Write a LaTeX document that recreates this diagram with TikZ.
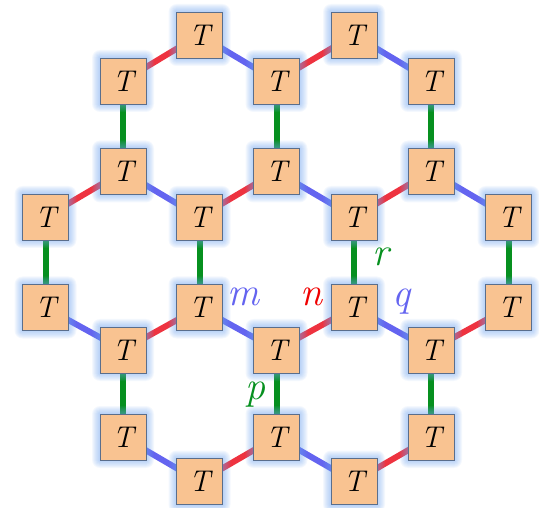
\documentclass[tikz,border=0pt]{standalone}
\usetikzlibrary{calc}
\definecolor{tfill}{HTML}{F9C391}
\definecolor{tborder}{HTML}{5A6E8C}
\definecolor{glow}{HTML}{6FA3EE}
\definecolor{ered}{HTML}{EE3340}
\definecolor{eblue}{HTML}{6464F0}
\definecolor{egreen}{HTML}{06901F}
\definecolor{lred}{HTML}{F00000}
\begin{document}
\begin{tikzpicture}[x=1pt,y=-1pt,
  tnode/.style={draw=tborder,line width=0.9pt,fill=tfill,minimum size=46pt,inner sep=0pt,
    font=\fontsize{30}{30}\selectfont\itshape},
  redge/.style={ered,line width=6pt},
  bedge/.style={eblue,line width=6pt},
  gedge/.style={egreen,line width=6pt},
  lab/.style={font=\fontsize{40}{40}\selectfont\itshape,inner sep=0pt}]
\useasboundingbox (0,0) rectangle (539,508);
% coordinates
\def\xa{45.5}\def\xb{123}\def\xc{199.5}\def\xd{276.5}\def\xe{354}\def\xf{431}\def\xg{508.5}
\def\ya{35}\def\yb{81}\def\yc{171.5}\def\yd{217}\def\ye{307.5}\def\yf{350}\def\yg{437}\def\yh{481.5}
\foreach \n/\x/\y in {a1/\xc/\ya, a2/\xe/\ya,
  b1/\xb/\yb, b2/\xd/\yb, b3/\xf/\yb,
  c1/\xb/\yc, c2/\xd/\yc, c3/\xf/\yc,
  d1/\xa/\yd, d2/\xc/\yd, d3/\xe/\yd, d4/\xg/\yd,
  e1/\xa/\ye, e2/\xc/\ye, e3/\xe/\ye, e4/\xg/\ye,
  f1/\xb/\yf, f2/\xd/\yf, f3/\xf/\yf,
  g1/\xb/\yg, g2/\xd/\yg, g3/\xf/\yg,
  h1/\xc/\yh, h2/\xe/\yh}
  {\coordinate (p\n) at (\x,\y);}
% edges
\draw[redge] (pb1) -- (pa1);
\draw[bedge] (pa1) -- (pb2);
\draw[redge] (pb2) -- (pa2);
\draw[bedge] (pa2) -- (pb3);
\foreach \i in {1,2,3} {\draw[gedge] (pb\i) -- (pc\i);}
\draw[redge] (pd1) -- (pc1);
\draw[bedge] (pc1) -- (pd2);
\draw[redge] (pd2) -- (pc2);
\draw[bedge] (pc2) -- (pd3);
\draw[redge] (pd3) -- (pc3);
\draw[bedge] (pc3) -- (pd4);
\foreach \i in {1,2,3,4} {\draw[gedge] (pd\i) -- (pe\i);}
\draw[bedge] (pe1) -- (pf1);
\draw[redge] (pf1) -- (pe2);
\draw[bedge] (pe2) -- (pf2);
\draw[redge] (pf2) -- (pe3);
\draw[bedge] (pe3) -- (pf3);
\draw[redge] (pf3) -- (pe4);
\foreach \i in {1,2,3} {\draw[gedge] (pf\i) -- (pg\i);}
\draw[bedge] (pg1) -- (ph1);
\draw[redge] (ph1) -- (pg2);
\draw[bedge] (pg2) -- (ph2);
\draw[redge] (ph2) -- (pg3);
% glow and nodes
\foreach \n in {a1,a2,b1,b2,b3,c1,c2,c3,d1,d2,d3,d4,e1,e2,e3,e4,f1,f2,f3,g1,g2,g3,h1,h2} {
  \foreach \s in {1,2,...,8} {
    \fill[glow,opacity=0.08,rounded corners=\s pt] ($(p\n)+(-23-\s,-23-\s)$) rectangle ($(p\n)+(23+\s,23+\s)$);
  }
  \node[tnode] (\n) at (p\n) {T};
}
% labels
\node[lab,text=eblue] (lm) at (243,297) {m};
\node[lab,text=lred] (ln) at (311,297) {n};
\node[lab,text=eblue] (lq) at (401,302) {q};
\node[lab,text=egreen] (lr) at (381,257) {r};
\node[lab,text=egreen] (lp) at (255,395) {p};
\end{tikzpicture}
\end{document}
